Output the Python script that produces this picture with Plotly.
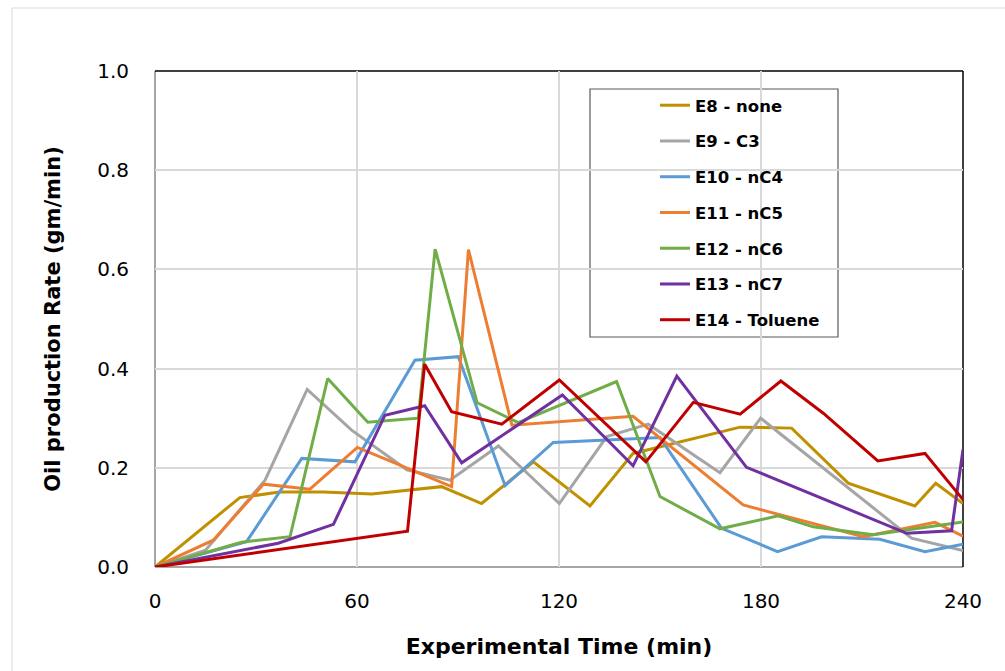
import plotly.graph_objects as go

# Oil production rate (gm/min) against experimental time (min) for each solvent run
e8_t = [0, 25.2, 37, 50, 64.4, 85.1, 97, 112.4, 129.2, 142, 173.8, 189.1, 205.9, 225.7, 231.9, 240]
e8_q = [0, 0.140, 0.151, 0.151, 0.147, 0.162, 0.128, 0.212, 0.123, 0.229, 0.282, 0.280, 0.169, 0.123, 0.169, 0.128]

e9_t = [0, 15, 32.7, 45.2, 58.4, 74.8, 87.6, 102, 120.1, 134.2, 146.5, 167.8, 179.9, 224.7, 240]
e9_q = [0, 0.034, 0.175, 0.358, 0.276, 0.196, 0.175, 0.244, 0.128, 0.263, 0.288, 0.190, 0.300, 0.058, 0.033]

e10_t = [0, 27.2, 43.6, 59.4, 77.2, 90.1, 104, 118.3, 150, 168.3, 184.9, 198, 215.3, 228.7, 240]
e10_q = [0, 0.051, 0.219, 0.212, 0.417, 0.424, 0.164, 0.251, 0.261, 0.078, 0.031, 0.061, 0.056, 0.031, 0.046]

e11_t = [0, 17.3, 32.2, 46, 60.1, 88.1, 93.1, 106, 142, 174.7, 210.4, 231.7, 240]
e11_q = [0, 0.054, 0.167, 0.157, 0.241, 0.162, 0.640, 0.286, 0.304, 0.125, 0.061, 0.090, 0.062]

e12_t = [0, 25.7, 40.1, 51.3, 63.2, 78.2, 83.2, 95.7, 107.9, 137.1, 150, 167.8, 185.1, 195.5, 213.3, 240]
e12_q = [0, 0.050, 0.061, 0.380, 0.292, 0.300, 0.641, 0.331, 0.291, 0.374, 0.142, 0.077, 0.103, 0.081, 0.065, 0.091]

e13_t = [0, 36.6, 53, 68.3, 80.1, 91.1, 121, 142, 155, 175.7, 223.3, 236.6, 240]
e13_q = [0, 0.048, 0.086, 0.306, 0.325, 0.210, 0.347, 0.204, 0.385, 0.201, 0.068, 0.073, 0.237]

e14_t = [0, 75, 80.1, 88.1, 103, 120.1, 145.8, 159.9, 173.8, 185.9, 198.5, 214.7, 228.7, 240]
e14_q = [0, 0.072, 0.409, 0.313, 0.288, 0.377, 0.212, 0.332, 0.308, 0.375, 0.310, 0.214, 0.229, 0.136]

series_names = ["E8 - none", "E9 - C3", "E10 - nC4", "E11 - nC5", "E12 - nC6", "E13 - nC7", "E14 - Toluene"]
series_t = [e8_t, e9_t, e10_t, e11_t, e12_t, e13_t, e14_t]
series_q = [e8_q, e9_q, e10_q, e11_q, e12_q, e13_q, e14_q]
colors = ["#BF9000", "#A5A5A5", "#5B9BD5", "#ED7D31", "#70AD47", "#7030A0", "#C00000"]

x_ticks = [0, 60, 120, 180, 240]
y_ticks = [0.0, 0.2, 0.4, 0.6, 0.8, 1.0]

FONT = "DejaVu Sans"

fig = go.Figure()
for i, (name, t, q, c) in enumerate(zip(series_names, series_t, series_q, colors)):
    fig.add_trace(go.Scatter(
        x=t, y=q, mode="lines", name=name,
        line=dict(color=c, width=3),
        legendgroup=f"g{i}",
    ))

# plot-area geometry in pixels
L, R, T, B = 155, 963, 71, 567
W, H = R - L, B - T

def px(xp):
    return (xp - L) / W

def py(yp):
    return (B - yp) / H

shapes = [
    # outer chart frame
    dict(type="rect", xref="paper", yref="paper", x0=px(12), x1=px(1012), y0=py(680), y1=py(8),
         line=dict(color="#D9D9D9", width=1), fillcolor="rgba(0,0,0,0)", layer="below"),
    # left and bottom axis lines
    dict(type="line", xref="paper", yref="paper", x0=0, x1=0, y0=0, y1=1,
         line=dict(color="#A6A6A6", width=2), layer="between"),
    dict(type="line", xref="paper", yref="paper", x0=0, x1=1, y0=0, y1=0,
         line=dict(color="#A6A6A6", width=2), layer="between"),
    # top and right frame
    dict(type="line", xref="paper", yref="paper", x0=0, x1=1, y0=1, y1=1,
         line=dict(color="#000000", width=1.5), layer="between"),
    dict(type="line", xref="paper", yref="paper", x0=1, x1=1, y0=0, y1=1,
         line=dict(color="#000000", width=1.5), layer="between"),
    # legend box
    dict(type="rect", xref="paper", yref="paper", x0=px(590), x1=px(838), y0=py(337), y1=py(89),
         line=dict(color="#595959", width=1.2), fillcolor="white", layer="between"),
]

fig.update_layout(
    width=1005, height=671,
    margin=dict(l=L, r=1005 - R, t=T, b=671 - B),
    paper_bgcolor="white", plot_bgcolor="white",
    font=dict(family=FONT, color="#000000"),
    shapes=shapes,
    showlegend=True,
    legend=dict(
        x=px(655), y=py(88), xanchor="left", yanchor="top",
        bgcolor="rgba(0,0,0,0)", borderwidth=0,
        font=dict(family=FONT, size=16.5, color="#000000", weight="bold"),
        tracegroupgap=11.3, itemwidth=30,
    ),
    xaxis=dict(
        range=[0, 240], tickvals=x_ticks, ticktext=[str(v) for v in x_ticks],
        showgrid=True, gridcolor="#D9D9D9", gridwidth=1.5,
        zeroline=False, showline=False, ticks="",
        tickfont=dict(family=FONT, size=20, color="#000000"),
        ticklabelstandoff=20,
        title=dict(text="Experimental Time (min)", standoff=26,
                   font=dict(family=FONT, size=22, color="#000000", weight="bold")),
    ),
    yaxis=dict(
        range=[0, 1.0], tickvals=y_ticks, ticktext=[f"{v:.1f}" for v in y_ticks],
        showgrid=True, gridcolor="#D9D9D9", gridwidth=1.5,
        zeroline=False, showline=False, ticks="",
        tickfont=dict(family=FONT, size=20, color="#000000"),
        ticklabelstandoff=25,
        title=dict(text="Oil production Rate (gm/min)", standoff=30,
                   font=dict(family=FONT, size=21, color="#000000", weight="bold")),
    ),
)

fig.write_html("out.html")
